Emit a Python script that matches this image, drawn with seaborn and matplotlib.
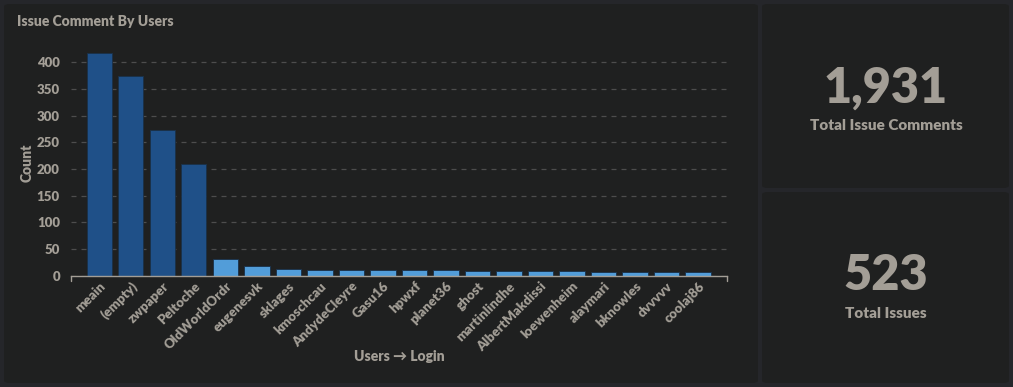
import matplotlib
matplotlib.use('Agg')
import matplotlib.pyplot as plt
from matplotlib.patches import FancyBboxPatch
import seaborn as sns

users = ['meain', '(empty)', 'zwpaper', 'Peltoche', 'OldWorldOrdr', 'eugenesvk',
         'sklages', 'kmoschcau', 'AndydeCleyre', 'Gasu16', 'hpwxf', 'planet36',
         'ghost', 'martinlindhe', 'AlbertMakdissi', 'loewenheim', 'alaymari',
         'bknowles', 'dvvvvv', 'coolaj86']
counts = [418, 375, 273, 209, 31, 18, 12, 10, 10, 10, 10, 11, 9, 9, 9, 9, 7, 7, 7, 7]
total_comments = 1931
total_issues = 523

txt = '#a39e96'
outer = '#25262a'
panel = '#1f2020'
dark_bar = '#1f5088'
light_bar = '#529dd9'
bw = 'heavy'

sns.set_theme(style='dark')
plt.rcParams['font.family'] = ['Lato', 'DejaVu Sans']

fig = plt.figure(figsize=(10.13, 3.87), dpi=100, facecolor=outer)
W, H = 1013, 387


def px_box(x0, y0, x1, y1):
    fig.patches.append(FancyBboxPatch((x0 / W, 1 - y1 / H), (x1 - x0) / W, (y1 - y0) / H,
                                      boxstyle='round,pad=0,rounding_size=0.006',
                                      transform=fig.transFigure, facecolor=panel,
                                      edgecolor='none', zorder=-5))


px_box(4, 4, 758, 383)
px_box(762, 4, 1009, 188)
px_box(762, 192, 1009, 383)

# bar chart
ax = fig.add_axes([71 / W, 1 - 275.7 / H, 656 / W, (275.7 - 50) / H])
ax.set_zorder(2)
ax.set_facecolor('none')
ax.patch.set_alpha(0)
colors = [dark_bar if c > 100 else light_bar for c in counts]
sns.barplot(x=users, y=counts, hue=users, palette=colors, legend=False,
            width=0.8, ax=ax, saturation=1, linewidth=0.6, edgecolor='#1a3048')
ax.set_xlim(-0.9, 19.92)
ax.set_ylim(0, 423)
ax.yaxis.grid(True, color='#4d4d4d', linestyle=(0, (4, 4)), linewidth=0.9)
ax.xaxis.grid(False)
ax.set_axisbelow(True)
for s in ['top', 'right', 'left']:
    ax.spines[s].set_visible(False)
ax.spines['bottom'].set_color(txt)
ax.spines['bottom'].set_linewidth(1)
ax.tick_params(axis='both', length=0, colors=txt)
ax.tick_params(axis='y', pad=8)
ax.tick_params(axis='x', pad=3)
yt = [0, 50, 100, 150, 200, 250, 300, 350, 400]
ax.set_yticks(yt, labels=[str(v) for v in yt], fontsize=9.5, fontweight=bw, color=txt)
ax.set_xticks(range(len(users)))
ax.set_xticklabels(users, rotation=45, ha='right', rotation_mode='anchor',
                   fontsize=9.5, fontweight=bw, color=txt)
# end caps on the baseline
ax.plot([-0.9, -0.9], [0, -10], color=txt, lw=1, clip_on=False)
ax.plot([19.92, 19.92], [0, -10], color=txt, lw=1, clip_on=False)
ax.set_ylabel('Count', fontsize=10, fontweight=bw, color=txt, labelpad=2)
ax.set_xlabel('Users \u2192 Login', fontsize=10, fontweight=bw, color=txt)
ax.xaxis.set_label_coords(0.5, (275.7 - 350) / 225.7)

fig.text(17 / W, 1 - 22 / H, 'Issue Comment By Users', fontsize=10, color=txt,
         fontweight=bw, va='center', ha='left')

# stat cards
fig.text(886 / W, 1 - 88 / H, f'{total_comments:,}', fontsize=35, fontweight=bw,
         color=txt, ha='center', va='center')
fig.text(886 / W, 1 - 125 / H, 'Total Issue Comments', fontsize=11, fontweight=bw,
         color=txt, ha='center', va='center')
fig.text(886 / W, 1 - 276 / H, f'{total_issues:,}', fontsize=35, fontweight=bw,
         color=txt, ha='center', va='center')
fig.text(886 / W, 1 - 314 / H, 'Total Issues', fontsize=11, fontweight=bw,
         color=txt, ha='center', va='center')

fig.savefig('out.png', dpi=100, facecolor=outer)
